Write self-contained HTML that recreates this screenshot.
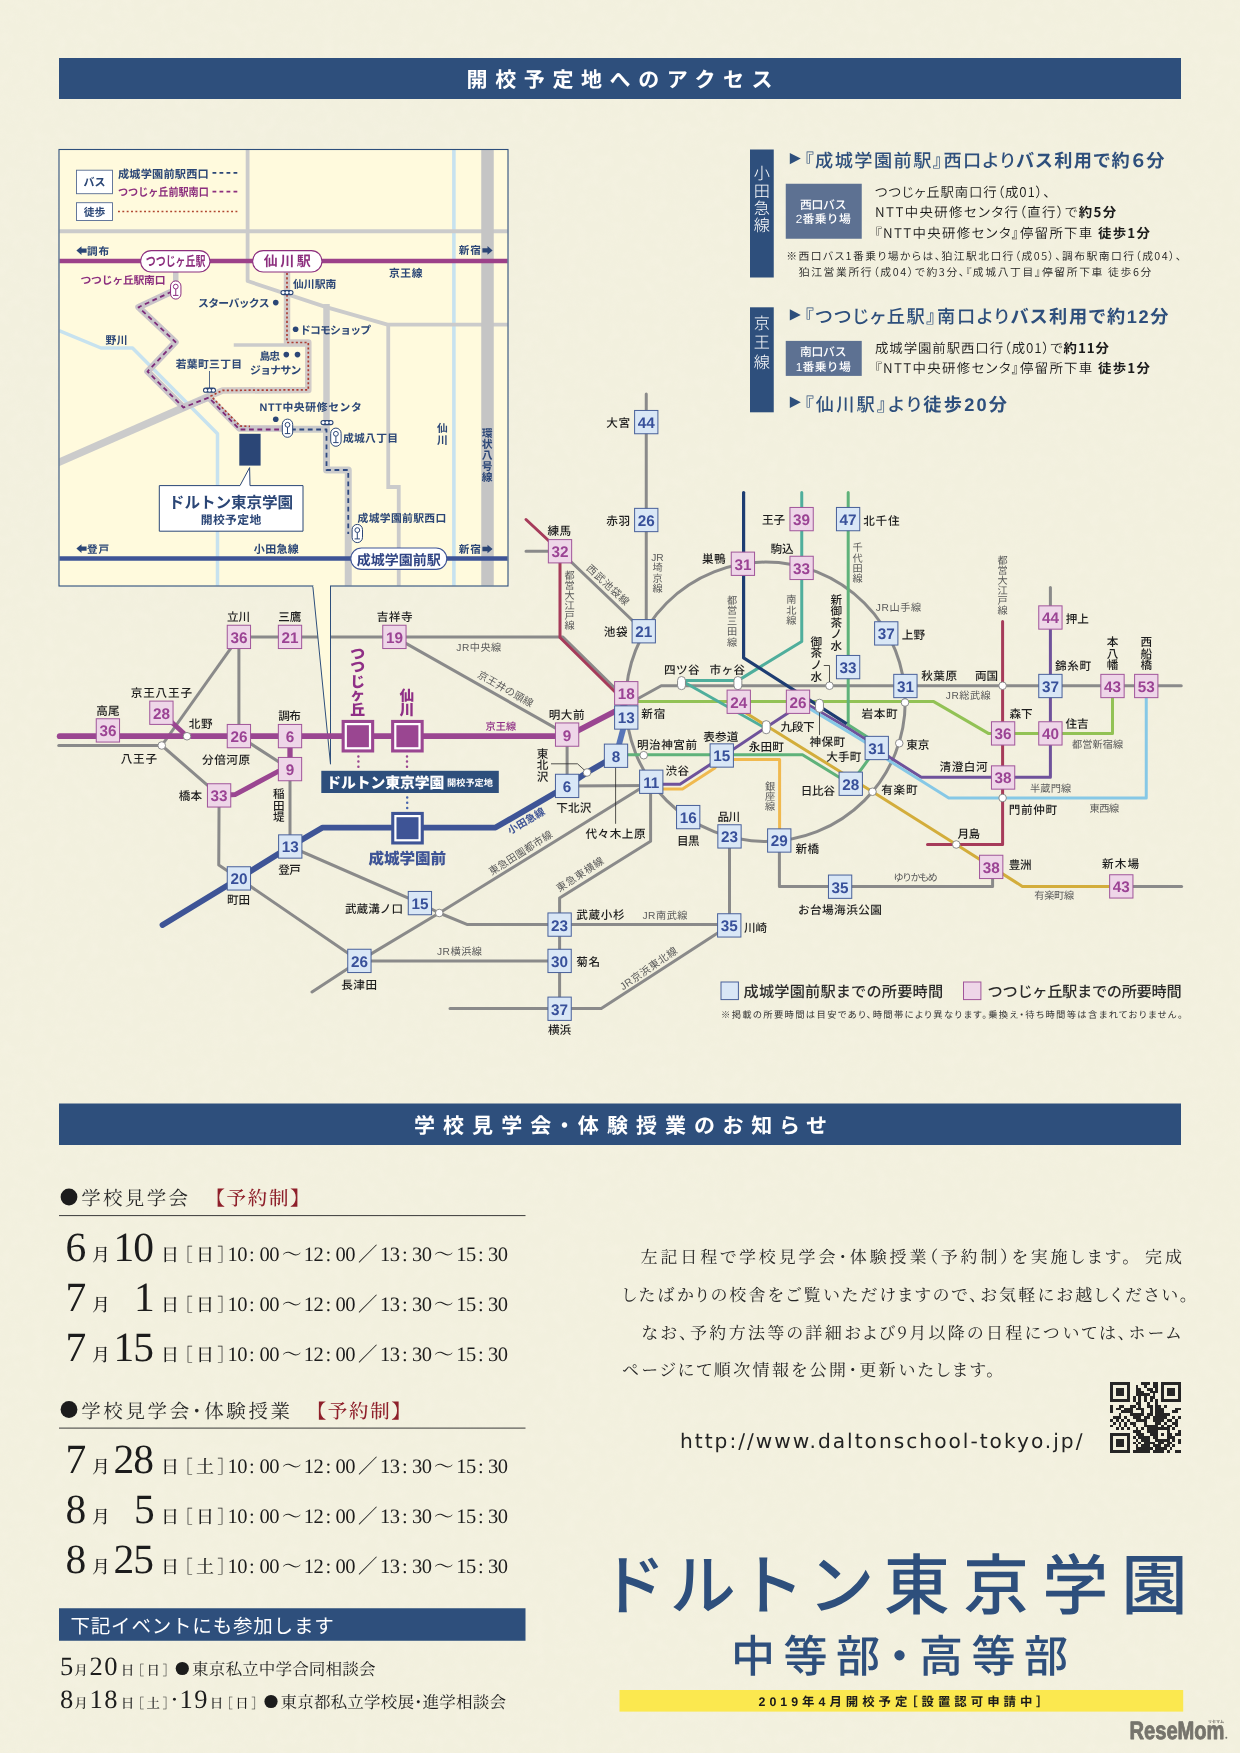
<!DOCTYPE html>
<html lang="ja"><head><meta charset="utf-8"><title>ドルトン東京学園 開校予定地へのアクセス</title>
<style>
html,body{margin:0;padding:0;background:#f2f0de;}
body{width:1240px;height:1753px;overflow:hidden;}
svg{display:block;font-family:"Liberation Sans","Noto Sans CJK JP",sans-serif;text-rendering:geometricPrecision;will-change:transform;}
svg text{white-space:pre;}
.serif{font-family:"Liberation Serif","Noto Serif CJK JP","Noto Serif CJK SC",serif;}
.jsans{font-family:"Noto Sans CJK JP","Liberation Sans",sans-serif;}
.jserif{font-family:"Noto Serif CJK JP","Noto Serif CJK SC","Liberation Serif",serif;}
</style></head><body>
<svg width="1240" height="1753" viewBox="0 0 1240 1753">
<defs><filter id="paper" x="0" y="0" width="100%" height="100%"><feTurbulence type="fractalNoise" baseFrequency="0.09" numOctaves="2" seed="7" result="n"/><feColorMatrix in="n" type="matrix" values="0 0 0 0 0.93  0 0 0 0 0.9  0 0 0 0 0.78  0.9 0.9 0 0 -0.72"/></filter></defs>
<rect width="1240" height="1753" fill="#f2f0de"/>
<rect width="1240" height="1753" filter="url(#paper)" opacity="0.55"/>
<rect x="59" y="58" width="1122" height="41" fill="#2e4f7c" />
<text x="619.6" y="87" font-size="21" fill="#ffffff" font-weight="700" text-anchor="middle" textLength="306" lengthAdjust="spacing">開校予定地へのアクセス</text>
<rect x="750" y="149.5" width="23.75" height="128" fill="#2e4f7c" />
<text x="761.9 761.9 761.9 761.9" y="179.46 196.66 213.86 231.06" font-size="16.2" fill="#ffffff" text-anchor="middle" font-weight="300">小田急線</text>
<rect x="750" y="307.3" width="23.75" height="105" fill="#2e4f7c" />
<text x="761.9 761.9 761.9" y="328.86 348.26 367.66" font-size="16.2" fill="#ffffff" text-anchor="middle" font-weight="300">京王線</text>
<polygon points="789.8,152.9 800.8,158.6 789.8,164.3" fill="#2e4f7c"/>
<text x="804.5" y="166.9" font-size="18.2" fill="#2e4f7c" style="font-feature-settings:'palt'" textLength="360" lengthAdjust="spacing"><tspan font-weight="500">『成城学園前駅』西口より</tspan><tspan font-weight="700">バス利用で約６分</tspan></text>
<rect x="785.75" y="183.75" width="76" height="55" fill="#5d7192" />
<text x="823.2" y="209.3" font-size="11.8" fill="#fff" font-weight="500" text-anchor="middle" textLength="46.5" lengthAdjust="spacing">西口バス</text>
<text x="823.2" y="223.2" font-size="11.8" fill="#fff" font-weight="500" text-anchor="middle" textLength="55" lengthAdjust="spacing">2番乗り場</text>
<text x="875" y="197" font-size="13.4" fill="#1a1a1a" style="font-feature-settings:'palt'" class="jsans" textLength="175" lengthAdjust="spacing"><tspan font-weight="350">つつじヶ丘駅南口行（成01）、</tspan></text>
<text x="875" y="217" font-size="13.4" fill="#1a1a1a" style="font-feature-settings:'palt'" class="jsans" textLength="241.25" lengthAdjust="spacing"><tspan font-weight="350">NTT中央研修センタ行（直行）で</tspan><tspan font-weight="700">約5分</tspan></text>
<text x="875" y="237.5" font-size="13.4" fill="#1a1a1a" style="font-feature-settings:'palt'" class="jsans" textLength="275" lengthAdjust="spacing"><tspan font-weight="350">『NTT中央研修センタ』停留所下車 </tspan><tspan font-weight="700">徒歩1分</tspan></text>
<text x="786.25" y="259.5" font-size="10.8" fill="#1a1a1a" style="font-feature-settings:'palt'" class="jsans" textLength="395" lengthAdjust="spacing"><tspan font-weight="350">※西口バス1番乗り場からは、狛江駅北口行（成05）、調布駅南口行（成04）、</tspan></text>
<text x="798.75" y="276.2" font-size="10.8" fill="#1a1a1a" style="font-feature-settings:'palt'" class="jsans" textLength="352.5" lengthAdjust="spacing"><tspan font-weight="350">狛江営業所行（成04）で約3分、『成城八丁目』停留所下車 徒歩6分</tspan></text>
<polygon points="789.8,309.2 800.8,314.9 789.8,320.59999999999997" fill="#2e4f7c"/>
<text x="804.5" y="323.3" font-size="18.2" fill="#2e4f7c" style="font-feature-settings:'palt'" textLength="364" lengthAdjust="spacing"><tspan font-weight="500">『つつじヶ丘駅』南口より</tspan><tspan font-weight="700">バス利用で約12分</tspan></text>
<rect x="785.75" y="340.9" width="76" height="35" fill="#5d7192" />
<text x="823.2" y="356.3" font-size="11.8" fill="#fff" font-weight="500" text-anchor="middle" textLength="46.5" lengthAdjust="spacing">南口バス</text>
<text x="823.2" y="371.4" font-size="11.8" fill="#fff" font-weight="500" text-anchor="middle" textLength="55" lengthAdjust="spacing">1番乗り場</text>
<text x="875" y="353" font-size="13.4" fill="#1a1a1a" style="font-feature-settings:'palt'" class="jsans" textLength="234" lengthAdjust="spacing"><tspan font-weight="350">成城学園前駅西口行（成01）で</tspan><tspan font-weight="700">約11分</tspan></text>
<text x="875" y="373" font-size="13.4" fill="#1a1a1a" style="font-feature-settings:'palt'" class="jsans" textLength="275" lengthAdjust="spacing"><tspan font-weight="350">『NTT中央研修センタ』停留所下車 </tspan><tspan font-weight="700">徒歩1分</tspan></text>
<polygon points="789.8,396.6 800.8,402.3 789.8,408.0" fill="#2e4f7c"/>
<text x="804.5" y="410.6" font-size="18.2" fill="#2e4f7c" style="font-feature-settings:'palt'" textLength="202.5" lengthAdjust="spacing"><tspan font-weight="500">『仙川駅』より</tspan><tspan font-weight="700">徒歩20分</tspan></text>
<defs><clipPath id="insetclip"><rect x="59.5" y="150" width="448" height="435.5"/></clipPath></defs>
<rect x="59" y="149.5" width="449" height="436.5" fill="#fffadd" />
<g clip-path="url(#insetclip)">
<polyline points="59,330.5 101,348 132.5,348 217.5,433.75 217.5,590" fill="none" stroke="#c7e2ef" stroke-width="3.5" stroke-linecap="butt" stroke-linejoin="round" />
<polyline points="453.9,149 453.9,590" fill="none" stroke="#c7e2ef" stroke-width="3.6" stroke-linecap="butt" stroke-linejoin="round" />
<polyline points="59,231.3 508,231.3" fill="none" stroke="#cbcbcb" stroke-width="3.9" stroke-linecap="butt" stroke-linejoin="round" />
<polyline points="247.6,149 247.6,281 327,307.4 387.5,324.6 508,324.6" fill="none" stroke="#cbcbcb" stroke-width="3.8" stroke-linecap="butt" stroke-linejoin="round" />
<polyline points="388.25,324 388.25,487 398.75,487 398.75,590" fill="none" stroke="#cbcbcb" stroke-width="3.8" stroke-linecap="butt" stroke-linejoin="miter" />
<polyline points="233.75,345 310,345" fill="none" stroke="#cbcbcb" stroke-width="3.6" stroke-linecap="butt" stroke-linejoin="round" />
<polyline points="55,464 210,396" fill="none" stroke="#cbcbcb" stroke-width="7.5" stroke-linecap="butt" stroke-linejoin="round" />
<polyline points="487.5,149 487.5,590" fill="none" stroke="#c5c5c5" stroke-width="12.5" stroke-linecap="butt" stroke-linejoin="round" />
<polyline points="326.5,304 326.5,429.5" fill="none" stroke="#cbcbcb" stroke-width="6.5" stroke-linecap="butt" stroke-linejoin="round" />
<polyline points="175.75,270 175.75,284" fill="none" stroke="#cbcbcb" stroke-width="5.5" stroke-linecap="butt" stroke-linejoin="round" />
<polyline points="172,291.5 138.5,307.2 175.5,342 147.5,371.5 183.5,407.5 208.75,397.5 239.5,428.5 287,428.5" fill="none" stroke="#c9c3c9" stroke-width="6.5" stroke-linecap="butt" stroke-linejoin="round" />
<polyline points="287,272 287,342.5 308.3,342.5 308.3,390 222.5,390.6 210,396" fill="none" stroke="#d2cbc8" stroke-width="6.5" stroke-linecap="butt" stroke-linejoin="round" />
<polyline points="287,429.2 326.5,429.2 326.5,470 348.25,470 348.25,590" fill="none" stroke="#cbcbcb" stroke-width="7" stroke-linecap="butt" stroke-linejoin="round" />
<polyline points="59,261.1 508,261.1" fill="none" stroke="#9c4189" stroke-width="4.5" stroke-linecap="butt" stroke-linejoin="round" />
<polyline points="59,558.5 508,558.5" fill="none" stroke="#3e5496" stroke-width="4.4" stroke-linecap="butt" stroke-linejoin="round" />
<polyline points="172,291.5 138.5,307.2 175.5,342 147.5,371.5 183.5,407.5 208.75,397.5 239.5,429.5 286,429.5" fill="none" stroke="#7d2a78" stroke-width="1.8" stroke-linecap="butt" stroke-linejoin="round" stroke-dasharray="4.8 3.6"/>
<polyline points="287,273 287,342.5 308.3,342.5 308.3,389.8 222.5,390.4 211,396 240,426 250,426.4" fill="none" stroke="#ad3d33" stroke-width="1.7" stroke-linecap="butt" stroke-linejoin="round" stroke-dasharray="2.1 2.25"/>
<polyline points="291,429.5 326.5,429.5 326.5,470 348.25,470 348.25,534" fill="none" stroke="#2f4a80" stroke-width="1.8" stroke-linecap="butt" stroke-linejoin="round" stroke-dasharray="4.8 3.6"/>
</g>
<rect x="59" y="149.5" width="449" height="436.5" fill="none" stroke="#2e4f7c" stroke-width="1.1" />
<rect x="76.5" y="170.2" width="36" height="23.5" fill="#ffffff" stroke="#566b92" stroke-width="0.9" />
<text x="94.5" y="186" font-size="11" fill="#2b4676" font-weight="700" text-anchor="middle">バス</text>
<rect x="76.5" y="202.7" width="36" height="17.8" fill="#ffffff" stroke="#566b92" stroke-width="0.9" />
<text x="94.5" y="215.7" font-size="10.8" fill="#2b4676" font-weight="700" text-anchor="middle">徒歩</text>
<text x="118" y="178.4" font-size="11.2" fill="#2b4676" font-weight="700" textLength="90.8" lengthAdjust="spacing">成城学園前駅西口</text>
<polyline points="212.5,172.9 237.5,172.9" fill="none" stroke="#2b4676" stroke-width="1.8" stroke-linecap="butt" stroke-linejoin="round" stroke-dasharray="3.8 3.2"/>
<text x="118" y="195.7" font-size="11.2" fill="#8c2e7e" font-weight="700" textLength="90.8" lengthAdjust="spacingAndGlyphs">つつじヶ丘前駅南口</text>
<polyline points="212.5,191.6 237.5,191.6" fill="none" stroke="#8c2e7e" stroke-width="1.8" stroke-linecap="butt" stroke-linejoin="round" stroke-dasharray="3.8 3.2"/>
<polyline points="118,211.6 237.5,211.6" fill="none" stroke="#b04630" stroke-width="1.5" stroke-linecap="butt" stroke-linejoin="round" stroke-dasharray="1.9 2.45"/>
<polygon points="86.60,248.40 81.50,248.40 81.50,246.30 76.40,250.60 81.50,254.90 81.50,252.80 86.60,252.80" fill="#2b4676"/>
<text x="87" y="254.5" font-size="10.6" fill="#2b4676" font-weight="700" textLength="22" lengthAdjust="spacing">調布</text>
<text x="458.8" y="254.3" font-size="10.6" fill="#2b4676" font-weight="700" textLength="22" lengthAdjust="spacing">新宿</text>
<polygon points="482.40,248.20 487.50,248.20 487.50,246.10 492.60,250.40 487.50,254.70 487.50,252.60 482.40,252.60" fill="#2b4676"/>
<polygon points="86.60,546.40 81.50,546.40 81.50,544.30 76.40,548.60 81.50,552.90 81.50,550.80 86.60,550.80" fill="#2b4676"/>
<text x="87" y="552.6" font-size="10.6" fill="#2b4676" font-weight="700" textLength="22" lengthAdjust="spacing">登戸</text>
<text x="458.8" y="552.8" font-size="10.6" fill="#2b4676" font-weight="700" textLength="22" lengthAdjust="spacing">新宿</text>
<polygon points="482.40,546.80 487.50,546.80 487.50,544.70 492.60,549.00 487.50,553.30 487.50,551.20 482.40,551.20" fill="#2b4676"/>
<text x="389" y="276.6" font-size="10.8" fill="#2b4676" font-weight="700" textLength="33.5" lengthAdjust="spacing">京王線</text>
<text x="253.8" y="553" font-size="11" fill="#2b4676" font-weight="700" textLength="45" lengthAdjust="spacing">小田急線</text>
<rect x="140.6" y="250.6" width="69.4" height="21.4" fill="#ffffff" stroke="#8c2e7e" stroke-width="1.1" rx="10.7" />
<text x="175.6" y="266.2" font-size="13.6" fill="#8c2e7e" font-weight="700" text-anchor="middle" textLength="59.5" lengthAdjust="spacingAndGlyphs">つつじヶ丘駅</text>
<rect x="252.6" y="250.6" width="69.4" height="21.4" fill="#ffffff" stroke="#8c2e7e" stroke-width="1.1" rx="10.7" />
<text x="287.3" y="266.4" font-size="14" fill="#8c2e7e" font-weight="700" text-anchor="middle" textLength="47" lengthAdjust="spacing">仙川駅</text>
<rect x="350.8" y="548" width="96" height="21.4" fill="#ffffff" stroke="#3e5496" stroke-width="1.1" rx="10.7" />
<text x="398.8" y="564.8" font-size="14" fill="#2f4383" font-weight="700" text-anchor="middle" textLength="84" lengthAdjust="spacing">成城学園前駅</text>
<rect x="170.55" y="280.9" width="10.4" height="18.2" fill="#ffffff" stroke="#8c2e7e" stroke-width="1.0" rx="5.2" />
<circle cx="175.75" cy="286.6" r="2.4" fill="none" stroke="#8c2e7e" stroke-width="1.0"/>
<path d="M175.75,289 V295.4 M173.05,295.4 H178.45" stroke="#8c2e7e" stroke-width="1" fill="none"/>
<text x="80.5" y="284.4" font-size="10.8" fill="#8c2e7e" font-weight="700" textLength="85" lengthAdjust="spacing">つつじヶ丘駅南口</text>
<rect x="280.5" y="290.0" width="13" height="5.2" fill="#2b4676" rx="2.6" />
<circle cx="283.1" cy="292.6" r="1.5" fill="#ffffff"/>
<circle cx="287" cy="292.6" r="1.5" fill="#ffffff"/>
<circle cx="290.9" cy="292.6" r="1.5" fill="#ffffff"/>
<text x="293" y="287.6" font-size="10.8" fill="#2b4676" font-weight="700" textLength="43.3" lengthAdjust="spacing">仙川駅南</text>
<text x="198" y="306.8" font-size="10.8" fill="#2b4676" font-weight="700" textLength="71.5" lengthAdjust="spacing">スターバックス</text>
<circle cx="275.75" cy="302.6" r="2.8" fill="#2b4676"/>
<circle cx="295.6" cy="329.3" r="2.8" fill="#2b4676"/>
<text x="300" y="333.7" font-size="10.8" fill="#2b4676" font-weight="700" textLength="71" lengthAdjust="spacing">ドコモショップ</text>
<text x="105.5" y="343.7" font-size="10.8" fill="#2b4676" font-weight="700" textLength="22" lengthAdjust="spacing">野川</text>
<text x="259.5" y="360" font-size="10.8" fill="#2b4676" font-weight="700" textLength="20.5" lengthAdjust="spacing">島忠</text>
<circle cx="286.3" cy="354.6" r="2.8" fill="#2b4676"/>
<circle cx="297.5" cy="354.6" r="2.8" fill="#2b4676"/>
<text x="250" y="373.7" font-size="10.8" fill="#2b4676" font-weight="700" textLength="51.3" lengthAdjust="spacing">ジョナサン</text>
<text x="175.75" y="368" font-size="10.8" fill="#2b4676" font-weight="700" textLength="66.3" lengthAdjust="spacing">若葉町三丁目</text>
<polyline points="209.5,371 209.5,388" fill="none" stroke="#2b4676" stroke-width="0.8" stroke-linecap="butt" stroke-linejoin="round" />
<rect x="203.0" y="387.59999999999997" width="13" height="5.2" fill="#2b4676" rx="2.6" />
<circle cx="205.6" cy="390.2" r="1.5" fill="#ffffff"/>
<circle cx="209.5" cy="390.2" r="1.5" fill="#ffffff"/>
<circle cx="213.4" cy="390.2" r="1.5" fill="#ffffff"/>
<text x="259.5" y="411.2" font-size="10.8" fill="#2b4676" font-weight="700" textLength="102.3" lengthAdjust="spacing">NTT中央研修センタ</text>
<circle cx="275.75" cy="419.3" r="2.8" fill="#2b4676"/>
<rect x="282.3" y="419.09999999999997" width="10.4" height="18.2" fill="#ffffff" stroke="#2b4676" stroke-width="1.0" rx="5.2" />
<circle cx="287.5" cy="424.8" r="2.4" fill="none" stroke="#2b4676" stroke-width="1.0"/>
<path d="M287.5,427.2 V433.59999999999997 M284.8,433.59999999999997 H290.2" stroke="#2b4676" stroke-width="1" fill="none"/>
<rect x="320.5" y="420.0" width="13" height="5.2" fill="#2b4676" rx="2.6" />
<circle cx="323.1" cy="422.6" r="1.5" fill="#ffffff"/>
<circle cx="327" cy="422.6" r="1.5" fill="#ffffff"/>
<circle cx="330.9" cy="422.6" r="1.5" fill="#ffffff"/>
<rect x="330.7" y="428.09999999999997" width="10.4" height="18.2" fill="#ffffff" stroke="#2b4676" stroke-width="1.0" rx="5.2" />
<circle cx="335.9" cy="433.8" r="2.4" fill="none" stroke="#2b4676" stroke-width="1.0"/>
<path d="M335.9,436.2 V442.59999999999997 M333.2,442.59999999999997 H338.59999999999997" stroke="#2b4676" stroke-width="1" fill="none"/>
<text x="343" y="441.8" font-size="10.8" fill="#2b4676" font-weight="700" textLength="55" lengthAdjust="spacing">成城八丁目</text>
<text x="442.5 442.5" y="432.0 443.8" font-size="10.8" fill="#2b4676" text-anchor="middle" font-weight="700">仙川</text>
<text x="487.2 487.2 487.2 487.2 487.2" y="436.8 447.9 459.0 470.1 481.2" font-size="10.8" fill="#2b4676" text-anchor="middle" font-weight="700">環状八号線</text>
<text x="357.5" y="522" font-size="10.8" fill="#2b4676" font-weight="700" textLength="88.8" lengthAdjust="spacing">成城学園前駅西口</text>
<rect x="352.1" y="524.4" width="10.4" height="18.2" fill="#ffffff" stroke="#2b4676" stroke-width="1.0" rx="5.2" />
<circle cx="357.3" cy="530.1" r="2.4" fill="none" stroke="#2b4676" stroke-width="1.0"/>
<path d="M357.3,532.5 V538.9 M354.6,538.9 H360.0" stroke="#2b4676" stroke-width="1" fill="none"/>
<rect x="239.3" y="433.8" width="21.3" height="31.8" fill="#2b4676" />
<path d="M159.3,485.6 H240 L249.6,467.6 L250,485.6 H303 V531.2 H159.3 Z" fill="#ffffff" stroke="#2b4676" stroke-width="1"/>
<text x="231" y="508.2" font-size="15.6" fill="#2b4676" font-weight="700" text-anchor="middle" textLength="124.3" lengthAdjust="spacing">ドルトン東京学園</text>
<text x="231" y="523.8" font-size="11.8" fill="#2b4676" font-weight="700" text-anchor="middle" textLength="60.5" lengthAdjust="spacing">開校予定地</text>
<circle cx="765.5" cy="701.8" r="139.7" fill="none" stroke="#8a8a8a" stroke-width="3.0"/>
<polyline points="58.75,745.5 161.75,745.5" fill="none" stroke="#8a8a8a" stroke-width="3.0" stroke-linecap="round" stroke-linejoin="round" />
<polyline points="161.75,745.5 238.9,636.9" fill="none" stroke="#8a8a8a" stroke-width="3.0" stroke-linecap="butt" stroke-linejoin="round" />
<polyline points="238.9,636.9 562.6,636.9 628.5,701.5" fill="none" stroke="#8a8a8a" stroke-width="3.0" stroke-linecap="butt" stroke-linejoin="round" />
<polyline points="161.75,745.5 219.1,795.4 218.75,865 238.9,878.4 359.4,960.9 559.6,960.9" fill="none" stroke="#8a8a8a" stroke-width="3.0" stroke-linecap="butt" stroke-linejoin="round" />
<polyline points="238.9,636.9 238.9,736.1 290,769.1 290,846.5 419.9,903.1 439.25,913 467.5,924.6 729.25,924.6" fill="none" stroke="#8a8a8a" stroke-width="3.0" stroke-linecap="butt" stroke-linejoin="round" />
<polyline points="729.5,836.25 729.5,925.4" fill="none" stroke="#8a8a8a" stroke-width="3.0" stroke-linecap="butt" stroke-linejoin="round" />
<polyline points="312,992 359.4,960.9 439.25,913 651.25,781.75" fill="none" stroke="#8a8a8a" stroke-width="3.0" stroke-linecap="round" stroke-linejoin="round" />
<polyline points="394.4,636.9 567.1,734.6 567.1,785.9 651.25,785.5" fill="none" stroke="#8a8a8a" stroke-width="3.0" stroke-linecap="butt" stroke-linejoin="round" />
<polyline points="650.6,781 650.6,841.25 559.6,898 559.6,1008.75" fill="none" stroke="#8a8a8a" stroke-width="3.0" stroke-linecap="butt" stroke-linejoin="round" />
<polyline points="450,1008.5 601.25,1008.5 729.25,925.4" fill="none" stroke="#8a8a8a" stroke-width="3.0" stroke-linecap="round" stroke-linejoin="round" />
<polyline points="646.25,394 646.25,631" fill="none" stroke="#8a8a8a" stroke-width="3.0" stroke-linecap="round" stroke-linejoin="round" />
<polyline points="526,551.25 560,551.25 643.75,631.25" fill="none" stroke="#8a8a8a" stroke-width="3.0" stroke-linecap="round" stroke-linejoin="round" />
<polyline points="630,703 661.25,685.75 1181.25,685.75" fill="none" stroke="#8a8a8a" stroke-width="3.0" stroke-linecap="round" stroke-linejoin="round" />
<polyline points="1050.4,587.5 1050.4,617.5" fill="none" stroke="#8a8a8a" stroke-width="3.0" stroke-linecap="round" stroke-linejoin="round" />
<polyline points="779.4,840 779.4,886.5 992.6,886.5 992.6,866.9" fill="none" stroke="#8a8a8a" stroke-width="3.0" stroke-linecap="butt" stroke-linejoin="round" />
<polyline points="1121.3,886.4 1181.6,886.4" fill="none" stroke="#8a8a8a" stroke-width="3.0" stroke-linecap="round" stroke-linejoin="round" />
<polyline points="526,519.5 560,551.25 560,637.5 626.25,703" fill="none" stroke="#a63b5a" stroke-width="3.0" stroke-linecap="round" stroke-linejoin="round" />
<polyline points="1002.6,621.5 1002.6,844.5 927.5,844.5" fill="none" stroke="#a63b5a" stroke-width="3.0" stroke-linecap="round" stroke-linejoin="round" />
<polyline points="626.25,701.6 905,701.6 933.75,701.6 988.75,733.6 1112.5,733.6 1112.5,686" fill="none" stroke="#92c255" stroke-width="3.0" stroke-linecap="butt" stroke-linejoin="round" />
<polyline points="848.2,492.5 848.2,724.8 876.75,743 876.75,748 850.75,783.75 838.75,777 802.5,754.8 615.75,754.8" fill="none" stroke="#5fb27a" stroke-width="3.0" stroke-linecap="round" stroke-linejoin="round" />
<polyline points="801.75,492.5 801.75,641.5 737.9,680.6 681.5,680.6" fill="none" stroke="#4fae9c" stroke-width="3.0" stroke-linecap="round" stroke-linejoin="round" />
<polyline points="683,681.5 765.5,728.2" fill="none" stroke="#4fae9c" stroke-width="3.0" stroke-linecap="butt" stroke-linejoin="round" />
<polyline points="744,711.8 872.5,791.75 956.25,844.5 1022.4,886.4 1121.3,886.4" fill="none" stroke="#d3ad3b" stroke-width="3.0" stroke-linecap="butt" stroke-linejoin="round" />
<polyline points="651.25,788.9 682.5,788.9 714.5,768.3 721.75,759.6 779.6,759.6 779.6,840" fill="none" stroke="#f0b94f" stroke-width="3.0" stroke-linecap="butt" stroke-linejoin="round" />
<polyline points="651.25,784.3 680,784.3 721.75,757 766.3,727.2 798,706.5" fill="none" stroke="#6f529b" stroke-width="3.0" stroke-linecap="butt" stroke-linejoin="round" />
<polyline points="800,700 846.8,727.3 866,739.5 890,757.5 921.25,777.3 1050.4,777.3 1050.4,617.5" fill="none" stroke="#6f529b" stroke-width="3.0" stroke-linecap="butt" stroke-linejoin="round" />
<polyline points="801,703.5 846.8,730.9 866,742.7 890,761.3 948.75,798 1146.25,798 1146.25,686" fill="none" stroke="#86c8e6" stroke-width="3.0" stroke-linecap="butt" stroke-linejoin="round" />
<polyline points="743.6,492.5 743.6,657.9 846.8,723.8" fill="none" stroke="#1e3d72" stroke-width="3.2" stroke-linecap="butt" stroke-linejoin="round" />
<circle cx="743.6" cy="492.5" r="1.6" fill="#1e3d72"/>
<path d="M312.8,586 L330.5,764.2 L330.5,586 Z" fill="#fffadd"/>
<path d="M312.8,586 L330.5,764.2 L330.5,586" fill="none" stroke="#2e4f7c" stroke-width="1" stroke-linejoin="miter"/>
<line x1="313.4" y1="586" x2="330" y2="586" stroke="#fffadd" stroke-width="2.2"/>
<polyline points="59.7,736.2 567.1,736.2" fill="none" stroke="#9a4691" stroke-width="5.8" stroke-linecap="round" stroke-linejoin="round" />
<polyline points="560,736.2 567.1,736.2 626.25,705.5" fill="none" stroke="#9a4691" stroke-width="5.8" stroke-linecap="butt" stroke-linejoin="round" />
<polyline points="161.4,712.75 187,736.25" fill="none" stroke="#9a4691" stroke-width="4.8" stroke-linecap="butt" stroke-linejoin="round" />
<polyline points="290,736.1 290,769.1" fill="none" stroke="#9a4691" stroke-width="5.3" stroke-linecap="butt" stroke-linejoin="round" />
<polyline points="290,769.1 278.25,771.4 235.5,794.4 219.1,795.6" fill="none" stroke="#9a4691" stroke-width="5.0" stroke-linecap="butt" stroke-linejoin="round" />
<polyline points="162.5,925 238.9,878.4 290.25,846.5 322.7,827.6 495.5,827.6 567.1,785.9 587,772.5 616,755.75" fill="none" stroke="#3e5496" stroke-width="5.8" stroke-linecap="round" stroke-linejoin="round" />
<polyline points="616,755.75 626.25,717.5" fill="none" stroke="#5775b8" stroke-width="5.8" stroke-linecap="butt" stroke-linejoin="round" />
<circle cx="187" cy="736.25" r="3.8" fill="#ffffff" stroke="#808080" stroke-width="0.9"/>
<circle cx="161.75" cy="745.5" r="3.8" fill="#ffffff" stroke="#808080" stroke-width="0.9"/>
<circle cx="439.25" cy="913" r="3.8" fill="#ffffff" stroke="#808080" stroke-width="0.9"/>
<circle cx="587" cy="772.5" r="3.8" fill="#ffffff" stroke="#808080" stroke-width="0.9"/>
<circle cx="643.75" cy="755.2" r="3.8" fill="#ffffff" stroke="#808080" stroke-width="0.9"/>
<circle cx="829.5" cy="685.75" r="3.8" fill="#ffffff" stroke="#808080" stroke-width="0.9"/>
<circle cx="905" cy="702.5" r="3.8" fill="#ffffff" stroke="#808080" stroke-width="0.9"/>
<circle cx="899.25" cy="743.25" r="3.8" fill="#ffffff" stroke="#808080" stroke-width="0.9"/>
<circle cx="872.5" cy="791.75" r="3.8" fill="#ffffff" stroke="#808080" stroke-width="0.9"/>
<circle cx="1002.6" cy="685.75" r="3.8" fill="#ffffff" stroke="#808080" stroke-width="0.9"/>
<circle cx="1002.6" cy="798" r="3.8" fill="#ffffff" stroke="#808080" stroke-width="0.9"/>
<circle cx="956.25" cy="844.5" r="3.8" fill="#ffffff" stroke="#808080" stroke-width="0.9"/>
<rect x="677.55" y="676.5" width="7.9" height="13.2" fill="#ffffff" stroke="#808080" stroke-width="0.9" rx="3.95" />
<rect x="733.9499999999999" y="676.5" width="7.9" height="13.2" fill="#ffffff" stroke="#808080" stroke-width="0.9" rx="3.95" />
<rect x="815.55" y="699.1999999999999" width="7.9" height="13.2" fill="#ffffff" stroke="#808080" stroke-width="0.9" rx="3.95" />
<rect x="762.25" y="720.6" width="7.9" height="13.2" fill="#ffffff" stroke="#808080" stroke-width="0.9" rx="3.95" />
<path d="M615.6,767 V823.8 M551,763.8 H577.5 L584.3,770 M823.75,665.5 H829.5 V682 M819.5,712.6 V735" stroke="#2a2a2a" stroke-width="0.8" fill="none"/>
<rect x="341.59999999999997" y="719.9000000000001" width="32.6" height="32.6" fill="#9a4691" />
<rect x="344.7" y="723.0" width="26.4" height="26.4" fill="#ffffff" />
<rect x="346.9" y="725.2" width="22" height="22" fill="#9a4691" />
<rect x="391.09999999999997" y="719.9000000000001" width="32.6" height="32.6" fill="#9a4691" />
<rect x="394.2" y="723.0" width="26.4" height="26.4" fill="#ffffff" />
<rect x="396.4" y="725.2" width="22" height="22" fill="#9a4691" />
<rect x="391.2" y="811.9000000000001" width="32.6" height="32.6" fill="#3e5496" />
<rect x="394.3" y="815.0" width="26.4" height="26.4" fill="#ffffff" />
<rect x="396.5" y="817.2" width="22" height="22" fill="#3e5496" />
<polyline points="358.4,756.4 358.4,768.5" fill="none" stroke="#9a4691" stroke-width="2.5" stroke-linecap="round" stroke-linejoin="round" stroke-dasharray="0.01 5.2"/>
<polyline points="407,756.4 407,768.5" fill="none" stroke="#9a4691" stroke-width="2.5" stroke-linecap="round" stroke-linejoin="round" stroke-dasharray="0.01 5.2"/>
<polyline points="407.2,797.6 407.2,809.5" fill="none" stroke="#4a66ad" stroke-width="2.5" stroke-linecap="round" stroke-linejoin="round" stroke-dasharray="0.01 5.2"/>
<rect x="321.3" y="770.8" width="177.5" height="22.2" fill="#2e4f7c" />
<text x="326.3" y="788" font-size="14.8" fill="#ffffff" font-weight="900" textLength="118" lengthAdjust="spacing">ドルトン東京学園</text>
<text x="447" y="786.2" font-size="9.2" fill="#ffffff" font-weight="700" textLength="46" lengthAdjust="spacing">開校予定地</text>
<text x="357.6 357.6 357.6 357.6 357.6" y="658.6 671.6 686.8 700.2 715.4" font-size="14.8" fill="#8f2f86" text-anchor="middle" font-weight="900">つつじヶ丘</text>
<text x="407.0 407.0" y="700.72 715.12" font-size="14.8" fill="#8f2f86" text-anchor="middle" font-weight="900">仙川</text>
<text x="407.3" y="863.7" font-size="15.6" fill="#3e5496" font-weight="900" text-anchor="middle" textLength="77.5" lengthAdjust="spacing">成城学園前</text>
<rect x="227.25" y="625.25" width="23.3" height="23.3" fill="#eed6e8" stroke="#a0559a" stroke-width="1" />
<text x="238.9" y="642.8" font-size="15.3" fill="#9b4394" font-weight="700" text-anchor="middle">36</text>
<rect x="278.35" y="625.25" width="23.3" height="23.3" fill="#eed6e8" stroke="#a0559a" stroke-width="1" />
<text x="290" y="642.8" font-size="15.3" fill="#9b4394" font-weight="700" text-anchor="middle">21</text>
<rect x="382.75" y="625.25" width="23.3" height="23.3" fill="#eed6e8" stroke="#a0559a" stroke-width="1" />
<text x="394.4" y="642.8" font-size="15.3" fill="#9b4394" font-weight="700" text-anchor="middle">19</text>
<rect x="96.25" y="718.75" width="23.3" height="23.3" fill="#eed6e8" stroke="#a0559a" stroke-width="1" />
<text x="107.9" y="736.3" font-size="15.3" fill="#9b4394" font-weight="700" text-anchor="middle">36</text>
<rect x="149.75" y="701.1" width="23.3" height="23.3" fill="#eed6e8" stroke="#a0559a" stroke-width="1" />
<text x="161.4" y="718.65" font-size="15.3" fill="#9b4394" font-weight="700" text-anchor="middle">28</text>
<rect x="227.25" y="724.45" width="23.3" height="23.3" fill="#eed6e8" stroke="#a0559a" stroke-width="1" />
<text x="238.9" y="742.0" font-size="15.3" fill="#9b4394" font-weight="700" text-anchor="middle">26</text>
<rect x="278.35" y="724.45" width="23.3" height="23.3" fill="#eed6e8" stroke="#a0559a" stroke-width="1" />
<text x="290" y="742.0" font-size="15.3" fill="#9b4394" font-weight="700" text-anchor="middle">6</text>
<rect x="278.35" y="757.45" width="23.3" height="23.3" fill="#eed6e8" stroke="#a0559a" stroke-width="1" />
<text x="290" y="775.0" font-size="15.3" fill="#9b4394" font-weight="700" text-anchor="middle">9</text>
<rect x="207.45" y="783.75" width="23.3" height="23.3" fill="#eed6e8" stroke="#a0559a" stroke-width="1" />
<text x="219.1" y="801.3" font-size="15.3" fill="#9b4394" font-weight="700" text-anchor="middle">33</text>
<rect x="548.35" y="539.6" width="23.3" height="23.3" fill="#eed6e8" stroke="#a0559a" stroke-width="1" />
<text x="560" y="557.15" font-size="15.3" fill="#9b4394" font-weight="700" text-anchor="middle">32</text>
<rect x="614.6" y="681.6" width="23.3" height="23.3" fill="#eed6e8" stroke="#a0559a" stroke-width="1" />
<text x="626.25" y="699.15" font-size="15.3" fill="#9b4394" font-weight="700" text-anchor="middle">18</text>
<rect x="555.45" y="722.95" width="23.3" height="23.3" fill="#eed6e8" stroke="#a0559a" stroke-width="1" />
<text x="567.1" y="740.5" font-size="15.3" fill="#9b4394" font-weight="700" text-anchor="middle">9</text>
<rect x="727.1" y="690.1" width="23.3" height="23.3" fill="#eed6e8" stroke="#a0559a" stroke-width="1" />
<text x="738.75" y="707.65" font-size="15.3" fill="#9b4394" font-weight="700" text-anchor="middle">24</text>
<rect x="786.35" y="690.1" width="23.3" height="23.3" fill="#eed6e8" stroke="#a0559a" stroke-width="1" />
<text x="798" y="707.65" font-size="15.3" fill="#9b4394" font-weight="700" text-anchor="middle">26</text>
<rect x="731.25" y="552.1" width="23.3" height="23.3" fill="#eed6e8" stroke="#a0559a" stroke-width="1" />
<text x="742.9" y="569.65" font-size="15.3" fill="#9b4394" font-weight="700" text-anchor="middle">31</text>
<rect x="789.95" y="556.25" width="23.3" height="23.3" fill="#eed6e8" stroke="#a0559a" stroke-width="1" />
<text x="801.6" y="573.8" font-size="15.3" fill="#9b4394" font-weight="700" text-anchor="middle">33</text>
<rect x="789.95" y="507.45" width="23.3" height="23.3" fill="#eed6e8" stroke="#a0559a" stroke-width="1" />
<text x="801.6" y="525.0" font-size="15.3" fill="#9b4394" font-weight="700" text-anchor="middle">39</text>
<rect x="991.45" y="721.75" width="23.3" height="23.3" fill="#eed6e8" stroke="#a0559a" stroke-width="1" />
<text x="1003.1" y="739.3" font-size="15.3" fill="#9b4394" font-weight="700" text-anchor="middle">36</text>
<rect x="1038.75" y="721.75" width="23.3" height="23.3" fill="#eed6e8" stroke="#a0559a" stroke-width="1" />
<text x="1050.4" y="739.3" font-size="15.3" fill="#9b4394" font-weight="700" text-anchor="middle">40</text>
<rect x="991.45" y="765.85" width="23.3" height="23.3" fill="#eed6e8" stroke="#a0559a" stroke-width="1" />
<text x="1003.1" y="783.4" font-size="15.3" fill="#9b4394" font-weight="700" text-anchor="middle">38</text>
<rect x="1038.75" y="605.85" width="23.3" height="23.3" fill="#eed6e8" stroke="#a0559a" stroke-width="1" />
<text x="1050.4" y="623.4" font-size="15.3" fill="#9b4394" font-weight="700" text-anchor="middle">44</text>
<rect x="1100.85" y="674.35" width="23.3" height="23.3" fill="#eed6e8" stroke="#a0559a" stroke-width="1" />
<text x="1112.5" y="691.9" font-size="15.3" fill="#9b4394" font-weight="700" text-anchor="middle">43</text>
<rect x="1134.6" y="674.35" width="23.3" height="23.3" fill="#eed6e8" stroke="#a0559a" stroke-width="1" />
<text x="1146.25" y="691.9" font-size="15.3" fill="#9b4394" font-weight="700" text-anchor="middle">53</text>
<rect x="979.55" y="855.25" width="23.3" height="23.3" fill="#eed6e8" stroke="#a0559a" stroke-width="1" />
<text x="991.2" y="872.8" font-size="15.3" fill="#9b4394" font-weight="700" text-anchor="middle">38</text>
<rect x="1109.65" y="874.75" width="23.3" height="23.3" fill="#eed6e8" stroke="#a0559a" stroke-width="1" />
<text x="1121.3" y="892.3" font-size="15.3" fill="#9b4394" font-weight="700" text-anchor="middle">43</text>
<rect x="278.6" y="834.85" width="23.3" height="23.3" fill="#d9e7f6" stroke="#48609a" stroke-width="1" />
<text x="290.25" y="852.4" font-size="15.3" fill="#38509a" font-weight="700" text-anchor="middle">13</text>
<rect x="227.25" y="866.75" width="23.3" height="23.3" fill="#d9e7f6" stroke="#48609a" stroke-width="1" />
<text x="238.9" y="884.3" font-size="15.3" fill="#38509a" font-weight="700" text-anchor="middle">20</text>
<rect x="408.25" y="891.45" width="23.3" height="23.3" fill="#d9e7f6" stroke="#48609a" stroke-width="1" />
<text x="419.9" y="909.0" font-size="15.3" fill="#38509a" font-weight="700" text-anchor="middle">15</text>
<rect x="347.75" y="949.25" width="23.3" height="23.3" fill="#d9e7f6" stroke="#48609a" stroke-width="1" />
<text x="359.4" y="966.8" font-size="15.3" fill="#38509a" font-weight="700" text-anchor="middle">26</text>
<rect x="634.6" y="410.45" width="23.3" height="23.3" fill="#d9e7f6" stroke="#48609a" stroke-width="1" />
<text x="646.25" y="428.0" font-size="15.3" fill="#38509a" font-weight="700" text-anchor="middle">44</text>
<rect x="634.6" y="508.35" width="23.3" height="23.3" fill="#d9e7f6" stroke="#48609a" stroke-width="1" />
<text x="646.25" y="525.9" font-size="15.3" fill="#38509a" font-weight="700" text-anchor="middle">26</text>
<rect x="632.1" y="619.6" width="23.3" height="23.3" fill="#d9e7f6" stroke="#48609a" stroke-width="1" />
<text x="643.75" y="637.15" font-size="15.3" fill="#38509a" font-weight="700" text-anchor="middle">21</text>
<rect x="614.6" y="705.85" width="23.3" height="23.3" fill="#d9e7f6" stroke="#48609a" stroke-width="1" />
<text x="626.25" y="723.4" font-size="15.3" fill="#38509a" font-weight="700" text-anchor="middle">13</text>
<rect x="604.35" y="744.1" width="23.3" height="23.3" fill="#d9e7f6" stroke="#48609a" stroke-width="1" />
<text x="616" y="761.65" font-size="15.3" fill="#38509a" font-weight="700" text-anchor="middle">8</text>
<rect x="555.45" y="774.25" width="23.3" height="23.3" fill="#d9e7f6" stroke="#48609a" stroke-width="1" />
<text x="567.1" y="791.8" font-size="15.3" fill="#38509a" font-weight="700" text-anchor="middle">6</text>
<rect x="639.6" y="770.1" width="23.3" height="23.3" fill="#d9e7f6" stroke="#48609a" stroke-width="1" />
<text x="651.25" y="787.65" font-size="15.3" fill="#38509a" font-weight="700" text-anchor="middle">11</text>
<rect x="710.1" y="743.85" width="23.3" height="23.3" fill="#d9e7f6" stroke="#48609a" stroke-width="1" />
<text x="721.75" y="761.4" font-size="15.3" fill="#38509a" font-weight="700" text-anchor="middle">15</text>
<rect x="676.55" y="805.45" width="23.3" height="23.3" fill="#d9e7f6" stroke="#48609a" stroke-width="1" />
<text x="688.2" y="823.0" font-size="15.3" fill="#38509a" font-weight="700" text-anchor="middle">16</text>
<rect x="717.85" y="824.75" width="23.3" height="23.3" fill="#d9e7f6" stroke="#48609a" stroke-width="1" />
<text x="729.5" y="842.3" font-size="15.3" fill="#38509a" font-weight="700" text-anchor="middle">23</text>
<rect x="767.6" y="828.85" width="23.3" height="23.3" fill="#d9e7f6" stroke="#48609a" stroke-width="1" />
<text x="779.25" y="846.4" font-size="15.3" fill="#38509a" font-weight="700" text-anchor="middle">29</text>
<rect x="836.45" y="507.45" width="23.3" height="23.3" fill="#d9e7f6" stroke="#48609a" stroke-width="1" />
<text x="848.1" y="525.0" font-size="15.3" fill="#38509a" font-weight="700" text-anchor="middle">47</text>
<rect x="836.45" y="655.45" width="23.3" height="23.3" fill="#d9e7f6" stroke="#48609a" stroke-width="1" />
<text x="848.1" y="673.0" font-size="15.3" fill="#38509a" font-weight="700" text-anchor="middle">33</text>
<rect x="874.6" y="621.75" width="23.3" height="23.3" fill="#d9e7f6" stroke="#48609a" stroke-width="1" />
<text x="886.25" y="639.3" font-size="15.3" fill="#38509a" font-weight="700" text-anchor="middle">37</text>
<rect x="893.75" y="674.35" width="23.3" height="23.3" fill="#d9e7f6" stroke="#48609a" stroke-width="1" />
<text x="905.4" y="691.9" font-size="15.3" fill="#38509a" font-weight="700" text-anchor="middle">31</text>
<rect x="865.1" y="736.35" width="23.3" height="23.3" fill="#d9e7f6" stroke="#48609a" stroke-width="1" />
<text x="876.75" y="753.9" font-size="15.3" fill="#38509a" font-weight="700" text-anchor="middle">31</text>
<rect x="839.1" y="772.1" width="23.3" height="23.3" fill="#d9e7f6" stroke="#48609a" stroke-width="1" />
<text x="850.75" y="789.65" font-size="15.3" fill="#38509a" font-weight="700" text-anchor="middle">28</text>
<rect x="1038.75" y="674.35" width="23.3" height="23.3" fill="#d9e7f6" stroke="#48609a" stroke-width="1" />
<text x="1050.4" y="691.9" font-size="15.3" fill="#38509a" font-weight="700" text-anchor="middle">37</text>
<rect x="828.45" y="875.05" width="23.3" height="23.3" fill="#d9e7f6" stroke="#48609a" stroke-width="1" />
<text x="840.1" y="892.6" font-size="15.3" fill="#38509a" font-weight="700" text-anchor="middle">35</text>
<rect x="547.95" y="912.95" width="23.3" height="23.3" fill="#d9e7f6" stroke="#48609a" stroke-width="1" />
<text x="559.6" y="930.5" font-size="15.3" fill="#38509a" font-weight="700" text-anchor="middle">23</text>
<rect x="547.95" y="949.25" width="23.3" height="23.3" fill="#d9e7f6" stroke="#48609a" stroke-width="1" />
<text x="559.6" y="966.8" font-size="15.3" fill="#38509a" font-weight="700" text-anchor="middle">30</text>
<rect x="547.95" y="997.1" width="23.3" height="23.3" fill="#d9e7f6" stroke="#48609a" stroke-width="1" />
<text x="559.6" y="1014.65" font-size="15.3" fill="#38509a" font-weight="700" text-anchor="middle">37</text>
<rect x="717.6" y="913.75" width="23.3" height="23.3" fill="#d9e7f6" stroke="#48609a" stroke-width="1" />
<text x="729.25" y="931.3" font-size="15.3" fill="#38509a" font-weight="700" text-anchor="middle">35</text>
<text x="227" y="621.3" font-size="11.6" fill="#1e1e1e" font-weight="500" textLength="23" lengthAdjust="spacing">立川</text>
<text x="278.3" y="621.3" font-size="11.6" fill="#1e1e1e" font-weight="500" textLength="23" lengthAdjust="spacing">三鷹</text>
<text x="376.8" y="621.3" font-size="11.6" fill="#1e1e1e" font-weight="500" textLength="35.7" lengthAdjust="spacing">吉祥寺</text>
<text x="96.3" y="714.5" font-size="11.6" fill="#1e1e1e" font-weight="500" textLength="23.2" lengthAdjust="spacing">高尾</text>
<text x="130.8" y="697" font-size="11.6" fill="#1e1e1e" font-weight="500" textLength="61.2" lengthAdjust="spacing">京王八王子</text>
<text x="188.8" y="728.3" font-size="11.6" fill="#1e1e1e" font-weight="500" textLength="23.7" lengthAdjust="spacing">北野</text>
<text x="120.8" y="762.5" font-size="11.6" fill="#1e1e1e" font-weight="500" textLength="36.2" lengthAdjust="spacing">八王子</text>
<text x="202" y="763.8" font-size="11.6" fill="#1e1e1e" font-weight="500" textLength="48" lengthAdjust="spacing">分倍河原</text>
<text x="278.3" y="719.5" font-size="11.6" fill="#1e1e1e" font-weight="500" textLength="22.5" lengthAdjust="spacing">調布</text>
<text x="178.8" y="800" font-size="11.6" fill="#1e1e1e" font-weight="500" textLength="23.2" lengthAdjust="spacing">橋本</text>
<text x="278.8 278.8 278.8" y="798.21 809.81 821.41" font-size="11.6" fill="#1e1e1e" text-anchor="middle" font-weight="500">稲田堤</text>
<text x="278.3" y="873.8" font-size="11.6" fill="#1e1e1e" font-weight="500" textLength="22.5" lengthAdjust="spacing">登戸</text>
<text x="227" y="903.8" font-size="11.6" fill="#1e1e1e" font-weight="500" textLength="23" lengthAdjust="spacing">町田</text>
<text x="345" y="913" font-size="11.6" fill="#1e1e1e" font-weight="500" textLength="58" lengthAdjust="spacing">武蔵溝ノ口</text>
<text x="341.3" y="988.8" font-size="11.6" fill="#1e1e1e" font-weight="500" textLength="35.7" lengthAdjust="spacing">長津田</text>
<text x="606.3" y="427" font-size="11.6" fill="#1e1e1e" font-weight="500" textLength="23.7" lengthAdjust="spacing">大宮</text>
<text x="606.3" y="525" font-size="11.6" fill="#1e1e1e" font-weight="500" textLength="23.7" lengthAdjust="spacing">赤羽</text>
<text x="547.5" y="535" font-size="11.6" fill="#1e1e1e" font-weight="500" textLength="23.7" lengthAdjust="spacing">練馬</text>
<text x="603.8" y="636.3" font-size="11.6" fill="#1e1e1e" font-weight="500" textLength="23.7" lengthAdjust="spacing">池袋</text>
<text x="702" y="563" font-size="11.6" fill="#1e1e1e" font-weight="500" textLength="23.7" lengthAdjust="spacing">巣鴨</text>
<text x="762" y="524.3" font-size="11.6" fill="#1e1e1e" font-weight="500" textLength="23" lengthAdjust="spacing">王子</text>
<text x="770.5" y="553" font-size="11.6" fill="#1e1e1e" font-weight="500" textLength="23.2" lengthAdjust="spacing">駒込</text>
<text x="863.3" y="525" font-size="11.6" fill="#1e1e1e" font-weight="500" textLength="36.2" lengthAdjust="spacing">北千住</text>
<text x="901.8" y="639.3" font-size="11.6" fill="#1e1e1e" font-weight="500" textLength="23.2" lengthAdjust="spacing">上野</text>
<text x="921.3" y="679.5" font-size="11.6" fill="#1e1e1e" font-weight="500" textLength="35.7" lengthAdjust="spacing">秋葉原</text>
<text x="975" y="679.5" font-size="11.6" fill="#1e1e1e" font-weight="500" textLength="23.2" lengthAdjust="spacing">両国</text>
<text x="1055" y="669.5" font-size="11.6" fill="#1e1e1e" font-weight="500" textLength="36.2" lengthAdjust="spacing">錦糸町</text>
<text x="1065.8" y="623" font-size="11.6" fill="#1e1e1e" font-weight="500" textLength="23" lengthAdjust="spacing">押上</text>
<text x="1112.5 1112.5 1112.5" y="646.21 657.61 669.01" font-size="11.6" fill="#1e1e1e" text-anchor="middle" font-weight="500">本八幡</text>
<text x="1146.25 1146.25 1146.25" y="646.21 657.61 669.01" font-size="11.6" fill="#1e1e1e" text-anchor="middle" font-weight="500">西船橋</text>
<text x="1009.5" y="718" font-size="11.6" fill="#1e1e1e" font-weight="500" textLength="23" lengthAdjust="spacing">森下</text>
<text x="1065.5" y="727.5" font-size="11.6" fill="#1e1e1e" font-weight="500" textLength="23.2" lengthAdjust="spacing">住吉</text>
<text x="939.5" y="771.3" font-size="11.6" fill="#1e1e1e" font-weight="500" textLength="48" lengthAdjust="spacing">清澄白河</text>
<text x="1008.8" y="813.8" font-size="11.6" fill="#1e1e1e" font-weight="500" textLength="48.2" lengthAdjust="spacing">門前仲町</text>
<text x="957.5" y="837.5" font-size="11.6" fill="#1e1e1e" font-weight="500" textLength="22.5" lengthAdjust="spacing">月島</text>
<text x="906.3" y="748.8" font-size="11.6" fill="#1e1e1e" font-weight="500" textLength="23" lengthAdjust="spacing">東京</text>
<text x="881.3" y="793.8" font-size="11.6" fill="#1e1e1e" font-weight="500" textLength="36.2" lengthAdjust="spacing">有楽町</text>
<text x="861.5" y="717.5" font-size="11.6" fill="#1e1e1e" font-weight="500" textLength="36" lengthAdjust="spacing">岩本町</text>
<text x="795.4" y="852.5" font-size="11.6" fill="#1e1e1e" font-weight="500" textLength="23.6" lengthAdjust="spacing">新橋</text>
<text x="1008.8" y="869.4" font-size="11.6" fill="#1e1e1e" font-weight="500" textLength="22.7" lengthAdjust="spacing">豊洲</text>
<text x="1102" y="868.4" font-size="11.6" fill="#1e1e1e" font-weight="500" textLength="37.2" lengthAdjust="spacing">新木場</text>
<text x="798" y="913.5" font-size="11.6" fill="#1e1e1e" font-weight="500" textLength="83.8" lengthAdjust="spacing">お台場海浜公園</text>
<text x="548.8" y="718.8" font-size="11.6" fill="#1e1e1e" font-weight="500" textLength="35.7" lengthAdjust="spacing">明大前</text>
<text x="542.5 542.5 542.5" y="757.71 769.31 780.91" font-size="11.6" fill="#1e1e1e" text-anchor="middle" font-weight="500">東北沢</text>
<text x="556.3" y="812" font-size="11.6" fill="#1e1e1e" font-weight="500" textLength="35" lengthAdjust="spacing">下北沢</text>
<text x="585.5" y="838" font-size="11.6" fill="#1e1e1e" font-weight="500" textLength="60" lengthAdjust="spacing">代々木上原</text>
<text x="677" y="844.5" font-size="11.6" fill="#1e1e1e" font-weight="500" textLength="22.5" lengthAdjust="spacing">目黒</text>
<text x="717.5" y="821.3" font-size="11.6" fill="#1e1e1e" font-weight="500" textLength="22.5" lengthAdjust="spacing">品川</text>
<text x="576.3" y="918.8" font-size="11.6" fill="#1e1e1e" font-weight="500" textLength="48.2" lengthAdjust="spacing">武蔵小杉</text>
<text x="576.3" y="966.3" font-size="11.6" fill="#1e1e1e" font-weight="500" textLength="23.7" lengthAdjust="spacing">菊名</text>
<text x="548" y="1034" font-size="11.6" fill="#1e1e1e" font-weight="500" textLength="23.2" lengthAdjust="spacing">横浜</text>
<text x="744" y="932" font-size="11.6" fill="#1e1e1e" font-weight="500" textLength="23" lengthAdjust="spacing">川崎</text>
<text x="641.3" y="718" font-size="11.6" fill="#1e1e1e" font-weight="500" textLength="24" lengthAdjust="spacing">新宿</text>
<text x="637" y="749.3" font-size="11.6" fill="#1e1e1e" font-weight="500" textLength="60" lengthAdjust="spacing">明治神宮前</text>
<text x="665.5" y="775" font-size="11.6" fill="#1e1e1e" font-weight="500" textLength="23.7" lengthAdjust="spacing">渋谷</text>
<text x="703.3" y="741.4" font-size="11.6" fill="#1e1e1e" font-weight="500" textLength="35" lengthAdjust="spacing">表参道</text>
<text x="664" y="674" font-size="11.6" fill="#1e1e1e" font-weight="500" textLength="35.5" lengthAdjust="spacing">四ツ谷</text>
<text x="709.5" y="674" font-size="11.6" fill="#1e1e1e" font-weight="500" textLength="35.5" lengthAdjust="spacing">市ヶ谷</text>
<text x="748.8" y="751.4" font-size="11.6" fill="#1e1e1e" font-weight="500" textLength="35" lengthAdjust="spacing">永田町</text>
<text x="780.5" y="731.4" font-size="11.6" fill="#1e1e1e" font-weight="500" textLength="34" lengthAdjust="spacing">九段下</text>
<text x="809.5" y="746.4" font-size="11.6" fill="#1e1e1e" font-weight="500" textLength="35.5" lengthAdjust="spacing">神保町</text>
<text x="826.3" y="760.6" font-size="11.6" fill="#1e1e1e" font-weight="500" textLength="35" lengthAdjust="spacing">大手町</text>
<text x="800.8" y="794.6" font-size="11.6" fill="#1e1e1e" font-weight="500" textLength="34.2" lengthAdjust="spacing">日比谷</text>
<text x="836.25 836.25 836.25 836.25 836.25" y="603.96 615.46 626.96 638.46 649.96" font-size="11.6" fill="#1e1e1e" text-anchor="middle" font-weight="500">新御茶ノ水</text>
<text x="816.25 816.25 816.25 816.25" y="645.71 657.46 669.21 680.96" font-size="11.6" fill="#1e1e1e" text-anchor="middle" font-weight="500">御茶ノ水</text>
<text x="456.3" y="651.3" font-size="10.2" fill="#5a5a5a" textLength="45" lengthAdjust="spacing">JR中央線</text>
<text x="485.5" y="730" font-size="10.2" fill="#8f2f86" font-weight="500" textLength="30.8" lengthAdjust="spacing">京王線</text>
<text x="503.75" y="692" font-size="10.2" fill="#5a5a5a" text-anchor="middle" textLength="62" lengthAdjust="spacing" transform="rotate(29.5 503.75 692)">京王井の頭線</text>
<text x="605.5" y="587.5" font-size="10.2" fill="#5a5a5a" text-anchor="middle" textLength="54" lengthAdjust="spacing" transform="rotate(43 605.5 587.5)">西武池袋線</text>
<text x="657.5" y="561" font-size="10.2" fill="#5a5a5a" text-anchor="middle">JR</text>
<text x="657.5 657.5 657.5" y="571.48 581.98 592.48" font-size="10.2" fill="#5a5a5a" text-anchor="middle">埼京線</text>
<text x="569.5 569.5 569.5 569.5 569.5 569.5" y="578.98 588.98 598.98 608.98 618.98 628.98" font-size="10.2" fill="#5a5a5a" text-anchor="middle">都営大江戸線</text>
<text x="1002.5 1002.5 1002.5 1002.5 1002.5 1002.5" y="563.98 574.08 584.18 594.28 604.38 614.48" font-size="10.2" fill="#5a5a5a" text-anchor="middle">都営大江戸線</text>
<text x="732 732 732 732 732" y="603.98 614.48 624.98 635.48 645.98" font-size="10.2" fill="#5a5a5a" text-anchor="middle">都営三田線</text>
<text x="791.25 791.25 791.25" y="603.23 613.53 623.83" font-size="10.2" fill="#5a5a5a" text-anchor="middle">南北線</text>
<text x="857.5 857.5 857.5 857.5" y="551.48 561.58 571.68 581.78" font-size="10.2" fill="#5a5a5a" text-anchor="middle">千代田線</text>
<text x="770 770 770" y="790.18 800.18 810.18" font-size="10.2" fill="#5a5a5a" text-anchor="middle">銀座線</text>
<text x="875.8" y="611.3" font-size="10.2" fill="#5a5a5a" textLength="45.5" lengthAdjust="spacing">JR山手線</text>
<text x="945.8" y="698.8" font-size="10.2" fill="#5a5a5a" textLength="45" lengthAdjust="spacing">JR総武線</text>
<text x="1072" y="748" font-size="10.2" fill="#5a5a5a" textLength="51.2" lengthAdjust="spacing">都営新宿線</text>
<text x="1030" y="791.8" font-size="10.2" fill="#5a5a5a" textLength="41.2" lengthAdjust="spacing">半蔵門線</text>
<text x="1089.5" y="812" font-size="10.2" fill="#5a5a5a" textLength="29.8" lengthAdjust="spacing">東西線</text>
<text x="893.6" y="881.3" font-size="10.2" fill="#5a5a5a" textLength="44" lengthAdjust="spacing">ゆりかもめ</text>
<text x="1034.2" y="899.3" font-size="10.2" fill="#5a5a5a" textLength="40" lengthAdjust="spacing">有楽町線</text>
<text x="642.5" y="918.8" font-size="10.2" fill="#5a5a5a" textLength="45" lengthAdjust="spacing">JR南武線</text>
<text x="437" y="955" font-size="10.2" fill="#5a5a5a" textLength="45" lengthAdjust="spacing">JR横浜線</text>
<text x="528" y="824" font-size="10.2" fill="#3e5496" font-weight="700" text-anchor="middle" textLength="41" lengthAdjust="spacing" transform="rotate(-30.5 528 824)">小田急線</text>
<text x="522.5" y="856" font-size="10.2" fill="#5a5a5a" text-anchor="middle" textLength="73" lengthAdjust="spacing" transform="rotate(-32.5 522.5 856)">東急田園都市線</text>
<text x="582" y="877.5" font-size="10.2" fill="#5a5a5a" text-anchor="middle" textLength="54" lengthAdjust="spacing" transform="rotate(-33 582 877.5)">東急東横線</text>
<text x="650.5" y="971.5" font-size="10.2" fill="#5a5a5a" text-anchor="middle" textLength="67" lengthAdjust="spacing" transform="rotate(-34.5 650.5 971.5)">JR京浜東北線</text>
<rect x="721" y="982" width="17.4" height="17.6" fill="#d9e7f6" stroke="#48609a" stroke-width="1" />
<text x="743.6" y="997.3" font-size="15.2" fill="#2a2a2a" font-weight="500" textLength="199.5" lengthAdjust="spacing">成城学園前駅までの所要時間</text>
<rect x="963.5" y="982" width="17.4" height="17.6" fill="#eed6e8" stroke="#a0559a" stroke-width="1" />
<text x="987.6" y="997.3" font-size="15.2" fill="#2a2a2a" font-weight="500" textLength="194" lengthAdjust="spacing">つつじヶ丘駅までの所要時間</text>
<text x="721" y="1017.7" font-size="9.3" fill="#333" textLength="461.5" lengthAdjust="spacing" style="font-feature-settings:'palt'">※掲載の所要時間は目安であり、時間帯により異なります。乗換え・待ち時間等は含まれておりません。</text>
<rect x="59" y="1103.5" width="1122" height="41.5" fill="#2e4f7c" />
<text x="620" y="1133" font-size="21" fill="#ffffff" font-weight="700" text-anchor="middle" textLength="412" lengthAdjust="spacing" style="font-feature-settings:'palt'">学校見学会・体験授業のお知らせ</text>
<circle cx="69" cy="1197" r="8.4" fill="#1c1c1c"/>
<text x="81.25" y="1205" font-size="19.5" fill="#2a2a2a" class="jserif" textLength="106.75" lengthAdjust="spacing" style="font-feature-settings:'palt'">学校見学会</text>
<text x="215" y="1205" font-size="19.5" fill="#8e1f2a" font-weight="500" class="jserif" textLength="85" lengthAdjust="spacing" style="font-feature-settings:'palt'">【予約制】</text>
<line x1="59" y1="1215.6" x2="525.5" y2="1215.6" stroke="#3a3a3a" stroke-width="1"/>
<text y="1261.25" fill="#1c1c1c" class="serif"><tspan x="65.5" font-size="41.5">6</tspan><tspan x="92" font-size="18" class="jserif" font-weight="500">月</tspan><tspan x="113.5" font-size="41.5" textLength="40.5" lengthAdjust="spacing">10</tspan><tspan x="161" font-size="18" class="jserif" font-weight="500">日</tspan><tspan x="183.5" font-size="18" class="jserif" font-weight="500" style="font-feature-settings:'palt'" textLength="43" lengthAdjust="spacing">［日］</tspan><tspan x="227.5" font-size="20.5" textLength="20" lengthAdjust="spacing">10</tspan><tspan x="249" font-size="20.5">:</tspan><tspan x="259.5" font-size="20.5" textLength="20" lengthAdjust="spacing">00</tspan><tspan x="303.75" font-size="20.5" textLength="20" lengthAdjust="spacing">12</tspan><tspan x="325.5" font-size="20.5">:</tspan><tspan x="335.5" font-size="20.5" textLength="20" lengthAdjust="spacing">00</tspan><tspan x="380" font-size="20.5" textLength="20" lengthAdjust="spacing">13</tspan><tspan x="402" font-size="20.5">:</tspan><tspan x="412" font-size="20.5" textLength="20" lengthAdjust="spacing">30</tspan><tspan x="456.25" font-size="20.5" textLength="20" lengthAdjust="spacing">15</tspan><tspan x="478" font-size="20.5">:</tspan><tspan x="488" font-size="20.5" textLength="20" lengthAdjust="spacing">30</tspan><tspan x="282" font-size="19.5" class="jserif">〜</tspan><tspan x="434" font-size="19.5" class="jserif">〜</tspan><tspan x="358" font-size="19.5" class="jserif">／</tspan></text>
<text y="1311.25" fill="#1c1c1c" class="serif"><tspan x="65.5" font-size="41.5">7</tspan><tspan x="92" font-size="18" class="jserif" font-weight="500">月</tspan><tspan x="134" font-size="41.5">1</tspan><tspan x="161" font-size="18" class="jserif" font-weight="500">日</tspan><tspan x="183.5" font-size="18" class="jserif" font-weight="500" style="font-feature-settings:'palt'" textLength="43" lengthAdjust="spacing">［日］</tspan><tspan x="227.5" font-size="20.5" textLength="20" lengthAdjust="spacing">10</tspan><tspan x="249" font-size="20.5">:</tspan><tspan x="259.5" font-size="20.5" textLength="20" lengthAdjust="spacing">00</tspan><tspan x="303.75" font-size="20.5" textLength="20" lengthAdjust="spacing">12</tspan><tspan x="325.5" font-size="20.5">:</tspan><tspan x="335.5" font-size="20.5" textLength="20" lengthAdjust="spacing">00</tspan><tspan x="380" font-size="20.5" textLength="20" lengthAdjust="spacing">13</tspan><tspan x="402" font-size="20.5">:</tspan><tspan x="412" font-size="20.5" textLength="20" lengthAdjust="spacing">30</tspan><tspan x="456.25" font-size="20.5" textLength="20" lengthAdjust="spacing">15</tspan><tspan x="478" font-size="20.5">:</tspan><tspan x="488" font-size="20.5" textLength="20" lengthAdjust="spacing">30</tspan><tspan x="282" font-size="19.5" class="jserif">〜</tspan><tspan x="434" font-size="19.5" class="jserif">〜</tspan><tspan x="358" font-size="19.5" class="jserif">／</tspan></text>
<text y="1361.25" fill="#1c1c1c" class="serif"><tspan x="65.5" font-size="41.5">7</tspan><tspan x="92" font-size="18" class="jserif" font-weight="500">月</tspan><tspan x="113.5" font-size="41.5" textLength="40.5" lengthAdjust="spacing">15</tspan><tspan x="161" font-size="18" class="jserif" font-weight="500">日</tspan><tspan x="183.5" font-size="18" class="jserif" font-weight="500" style="font-feature-settings:'palt'" textLength="43" lengthAdjust="spacing">［日］</tspan><tspan x="227.5" font-size="20.5" textLength="20" lengthAdjust="spacing">10</tspan><tspan x="249" font-size="20.5">:</tspan><tspan x="259.5" font-size="20.5" textLength="20" lengthAdjust="spacing">00</tspan><tspan x="303.75" font-size="20.5" textLength="20" lengthAdjust="spacing">12</tspan><tspan x="325.5" font-size="20.5">:</tspan><tspan x="335.5" font-size="20.5" textLength="20" lengthAdjust="spacing">00</tspan><tspan x="380" font-size="20.5" textLength="20" lengthAdjust="spacing">13</tspan><tspan x="402" font-size="20.5">:</tspan><tspan x="412" font-size="20.5" textLength="20" lengthAdjust="spacing">30</tspan><tspan x="456.25" font-size="20.5" textLength="20" lengthAdjust="spacing">15</tspan><tspan x="478" font-size="20.5">:</tspan><tspan x="488" font-size="20.5" textLength="20" lengthAdjust="spacing">30</tspan><tspan x="282" font-size="19.5" class="jserif">〜</tspan><tspan x="434" font-size="19.5" class="jserif">〜</tspan><tspan x="358" font-size="19.5" class="jserif">／</tspan></text>
<circle cx="69" cy="1409.5" r="8.4" fill="#1c1c1c"/>
<text x="81.25" y="1417.5" font-size="19.5" fill="#2a2a2a" class="jserif" textLength="208.75" lengthAdjust="spacing" style="font-feature-settings:'palt'">学校見学会・体験授業</text>
<text x="316.25" y="1417.5" font-size="19.5" fill="#8e1f2a" font-weight="500" class="jserif" textLength="85" lengthAdjust="spacing" style="font-feature-settings:'palt'">【予約制】</text>
<line x1="59" y1="1428.1" x2="525.5" y2="1428.1" stroke="#3a3a3a" stroke-width="1"/>
<text y="1473" fill="#1c1c1c" class="serif"><tspan x="65.5" font-size="41.5">7</tspan><tspan x="92" font-size="18" class="jserif" font-weight="500">月</tspan><tspan x="113.5" font-size="41.5" textLength="40.5" lengthAdjust="spacing">28</tspan><tspan x="161" font-size="18" class="jserif" font-weight="500">日</tspan><tspan x="183.5" font-size="18" class="jserif" font-weight="500" style="font-feature-settings:'palt'" textLength="43" lengthAdjust="spacing">［土］</tspan><tspan x="227.5" font-size="20.5" textLength="20" lengthAdjust="spacing">10</tspan><tspan x="249" font-size="20.5">:</tspan><tspan x="259.5" font-size="20.5" textLength="20" lengthAdjust="spacing">00</tspan><tspan x="303.75" font-size="20.5" textLength="20" lengthAdjust="spacing">12</tspan><tspan x="325.5" font-size="20.5">:</tspan><tspan x="335.5" font-size="20.5" textLength="20" lengthAdjust="spacing">00</tspan><tspan x="380" font-size="20.5" textLength="20" lengthAdjust="spacing">13</tspan><tspan x="402" font-size="20.5">:</tspan><tspan x="412" font-size="20.5" textLength="20" lengthAdjust="spacing">30</tspan><tspan x="456.25" font-size="20.5" textLength="20" lengthAdjust="spacing">15</tspan><tspan x="478" font-size="20.5">:</tspan><tspan x="488" font-size="20.5" textLength="20" lengthAdjust="spacing">30</tspan><tspan x="282" font-size="19.5" class="jserif">〜</tspan><tspan x="434" font-size="19.5" class="jserif">〜</tspan><tspan x="358" font-size="19.5" class="jserif">／</tspan></text>
<text y="1523" fill="#1c1c1c" class="serif"><tspan x="65.5" font-size="41.5">8</tspan><tspan x="92" font-size="18" class="jserif" font-weight="500">月</tspan><tspan x="134" font-size="41.5">5</tspan><tspan x="161" font-size="18" class="jserif" font-weight="500">日</tspan><tspan x="183.5" font-size="18" class="jserif" font-weight="500" style="font-feature-settings:'palt'" textLength="43" lengthAdjust="spacing">［日］</tspan><tspan x="227.5" font-size="20.5" textLength="20" lengthAdjust="spacing">10</tspan><tspan x="249" font-size="20.5">:</tspan><tspan x="259.5" font-size="20.5" textLength="20" lengthAdjust="spacing">00</tspan><tspan x="303.75" font-size="20.5" textLength="20" lengthAdjust="spacing">12</tspan><tspan x="325.5" font-size="20.5">:</tspan><tspan x="335.5" font-size="20.5" textLength="20" lengthAdjust="spacing">00</tspan><tspan x="380" font-size="20.5" textLength="20" lengthAdjust="spacing">13</tspan><tspan x="402" font-size="20.5">:</tspan><tspan x="412" font-size="20.5" textLength="20" lengthAdjust="spacing">30</tspan><tspan x="456.25" font-size="20.5" textLength="20" lengthAdjust="spacing">15</tspan><tspan x="478" font-size="20.5">:</tspan><tspan x="488" font-size="20.5" textLength="20" lengthAdjust="spacing">30</tspan><tspan x="282" font-size="19.5" class="jserif">〜</tspan><tspan x="434" font-size="19.5" class="jserif">〜</tspan><tspan x="358" font-size="19.5" class="jserif">／</tspan></text>
<text y="1573" fill="#1c1c1c" class="serif"><tspan x="65.5" font-size="41.5">8</tspan><tspan x="92" font-size="18" class="jserif" font-weight="500">月</tspan><tspan x="113.5" font-size="41.5" textLength="40.5" lengthAdjust="spacing">25</tspan><tspan x="161" font-size="18" class="jserif" font-weight="500">日</tspan><tspan x="183.5" font-size="18" class="jserif" font-weight="500" style="font-feature-settings:'palt'" textLength="43" lengthAdjust="spacing">［土］</tspan><tspan x="227.5" font-size="20.5" textLength="20" lengthAdjust="spacing">10</tspan><tspan x="249" font-size="20.5">:</tspan><tspan x="259.5" font-size="20.5" textLength="20" lengthAdjust="spacing">00</tspan><tspan x="303.75" font-size="20.5" textLength="20" lengthAdjust="spacing">12</tspan><tspan x="325.5" font-size="20.5">:</tspan><tspan x="335.5" font-size="20.5" textLength="20" lengthAdjust="spacing">00</tspan><tspan x="380" font-size="20.5" textLength="20" lengthAdjust="spacing">13</tspan><tspan x="402" font-size="20.5">:</tspan><tspan x="412" font-size="20.5" textLength="20" lengthAdjust="spacing">30</tspan><tspan x="456.25" font-size="20.5" textLength="20" lengthAdjust="spacing">15</tspan><tspan x="478" font-size="20.5">:</tspan><tspan x="488" font-size="20.5" textLength="20" lengthAdjust="spacing">30</tspan><tspan x="282" font-size="19.5" class="jserif">〜</tspan><tspan x="434" font-size="19.5" class="jserif">〜</tspan><tspan x="358" font-size="19.5" class="jserif">／</tspan></text>
<rect x="59" y="1608.25" width="466.5" height="32.5" fill="#2e4f7c" />
<text x="70.5" y="1632.8" font-size="19.5" fill="#ffffff" textLength="263.25" lengthAdjust="spacing">下記イベントにも参加します</text>
<text y="1674.5" fill="#1c1c1c" class="serif"><tspan x="60" font-size="26.5">5</tspan><tspan x="74.3" font-size="13.6" class="jserif" font-weight="500">月</tspan><tspan x="89.5" font-size="26.5" textLength="28" lengthAdjust="spacing">20</tspan><tspan x="120.8" font-size="13.6" class="jserif" font-weight="500">日</tspan><tspan x="137.3" font-size="13.4" class="jserif" textLength="32" lengthAdjust="spacing" style="font-feature-settings:'palt'" font-weight="500">［日］</tspan><tspan x="192" font-size="16.6" class="jserif" textLength="183.5" lengthAdjust="spacing">東京私立中学合同相談会</tspan></text>
<circle cx="182.3" cy="1668.5" r="6.6" fill="#1c1c1c"/>
<text y="1707.5" fill="#1c1c1c" class="serif"><tspan x="60" font-size="26.5">8</tspan><tspan x="74.3" font-size="13.6" class="jserif" font-weight="500">月</tspan><tspan x="89.5" font-size="26.5" textLength="28" lengthAdjust="spacing">18</tspan><tspan x="120.8" font-size="13.6" class="jserif" font-weight="500">日</tspan><tspan x="137.3" font-size="13.4" class="jserif" textLength="32" lengthAdjust="spacing" style="font-feature-settings:'palt'" font-weight="500">［土］</tspan><tspan x="170" font-size="26.5">·</tspan><tspan x="179.5" font-size="26.5" textLength="28" lengthAdjust="spacing">19</tspan><tspan x="209.8" font-size="13.6" class="jserif" font-weight="500">日</tspan><tspan x="226" font-size="13.4" class="jserif" textLength="32" lengthAdjust="spacing" style="font-feature-settings:'palt'" font-weight="500">［日］</tspan><tspan x="280.5" font-size="16.6" class="jserif" textLength="225.5" lengthAdjust="spacing" style="font-feature-settings:'palt'">東京都私立学校展・進学相談会</tspan></text>
<circle cx="271" cy="1701.5" r="6.6" fill="#1c1c1c"/>
<text x="640.5" y="1262.5" font-size="17" fill="#262626" class="jserif" textLength="541.5" lengthAdjust="spacing" style="font-feature-settings:'palt'">左記日程で学校見学会・体験授業（予約制）を実施します。 完成</text>
<text x="622.5" y="1301.0" font-size="17" fill="#262626" class="jserif" textLength="566" lengthAdjust="spacing" style="font-feature-settings:'palt'">したばかりの校舎をご覧いただけますので、お気軽にお越しください。</text>
<text x="641.25" y="1338.5" font-size="17" fill="#262626" class="jserif" textLength="539.5" lengthAdjust="spacing" style="font-feature-settings:'palt'">なお、予約方法等の詳細および9月以降の日程については、ホーム</text>
<text x="622" y="1376.25" font-size="17" fill="#262626" class="jserif" textLength="373" lengthAdjust="spacing" style="font-feature-settings:'palt'">ページにて順次情報を公開・更新いたします。</text>
<text x="680" y="1447.5" font-size="20.2" fill="#222" textLength="402.5" lengthAdjust="spacing" style="font-family:'DejaVu Sans','Liberation Sans',sans-serif">http://www.daltonschool-tokyo.jp/</text>
<text x="607.5" y="1609.3" font-size="66" fill="#2e4f7c" font-weight="500" class="jsans" textLength="580" lengthAdjust="spacing" style="font-feature-settings:'palt'">ドルトン東京学園</text>
<text x="731" y="1672" font-size="44" fill="#2e4f7c" font-weight="500" class="jsans" textLength="337" lengthAdjust="spacing" style="font-feature-settings:'palt'">中等部・高等部</text>
<rect x="619.5" y="1690" width="563.7" height="21.6" fill="#fbe84f" />
<text x="900.5" y="1706.3" font-size="12.4" fill="#1a1a1a" font-weight="700" text-anchor="middle" textLength="284" lengthAdjust="spacing" style="font-feature-settings:'palt'">2019年4月開校予定［設置認可申請中］</text>
<text x="1129.5" y="1738.7" font-size="25" fill="#76746c" font-weight="700" textLength="95" lengthAdjust="spacingAndGlyphs" stroke="#76746c" stroke-width="0.9" stroke-linejoin="round">ReseMom</text>
<text x="1208" y="1723.3" font-size="4" fill="#76746c" font-weight="700" textLength="16" lengthAdjust="spacing">リセマム</text>
<circle cx="1226.3" cy="1737.7" r="1.0" fill="#76746c"/>
<path d="M1110.00,1382.00h19.85v2.84h-19.85zM1141.20,1382.00h8.51v2.84h-8.51zM1152.54,1382.00h5.67v2.84h-5.67zM1161.05,1382.00h19.85v2.84h-19.85zM1110.00,1384.84h2.84v2.84h-2.84zM1127.02,1384.84h2.84v2.84h-2.84zM1135.52,1384.84h2.84v2.84h-2.84zM1144.03,1384.84h2.84v2.84h-2.84zM1152.54,1384.84h5.67v2.84h-5.67zM1161.05,1384.84h2.84v2.84h-2.84zM1178.06,1384.84h2.84v2.84h-2.84zM1110.00,1387.67h2.84v2.84h-2.84zM1115.67,1387.67h8.51v2.84h-8.51zM1127.02,1387.67h2.84v2.84h-2.84zM1135.52,1387.67h5.67v2.84h-5.67zM1146.87,1387.67h5.67v2.84h-5.67zM1155.38,1387.67h2.84v2.84h-2.84zM1161.05,1387.67h2.84v2.84h-2.84zM1166.72,1387.67h8.51v2.84h-8.51zM1178.06,1387.67h2.84v2.84h-2.84zM1110.00,1390.51h2.84v2.84h-2.84zM1115.67,1390.51h8.51v2.84h-8.51zM1127.02,1390.51h2.84v2.84h-2.84zM1135.52,1390.51h8.51v2.84h-8.51zM1149.70,1390.51h8.51v2.84h-8.51zM1161.05,1390.51h2.84v2.84h-2.84zM1166.72,1390.51h8.51v2.84h-8.51zM1178.06,1390.51h2.84v2.84h-2.84zM1110.00,1393.34h2.84v2.84h-2.84zM1115.67,1393.34h8.51v2.84h-8.51zM1127.02,1393.34h2.84v2.84h-2.84zM1135.52,1393.34h14.18v2.84h-14.18zM1152.54,1393.34h2.84v2.84h-2.84zM1161.05,1393.34h2.84v2.84h-2.84zM1166.72,1393.34h8.51v2.84h-8.51zM1178.06,1393.34h2.84v2.84h-2.84zM1110.00,1396.18h2.84v2.84h-2.84zM1127.02,1396.18h2.84v2.84h-2.84zM1132.69,1396.18h2.84v2.84h-2.84zM1138.36,1396.18h2.84v2.84h-2.84zM1144.03,1396.18h2.84v2.84h-2.84zM1149.70,1396.18h5.67v2.84h-5.67zM1161.05,1396.18h2.84v2.84h-2.84zM1178.06,1396.18h2.84v2.84h-2.84zM1110.00,1399.02h19.85v2.84h-19.85zM1132.69,1399.02h2.84v2.84h-2.84zM1138.36,1399.02h2.84v2.84h-2.84zM1144.03,1399.02h2.84v2.84h-2.84zM1149.70,1399.02h2.84v2.84h-2.84zM1155.38,1399.02h2.84v2.84h-2.84zM1161.05,1399.02h19.85v2.84h-19.85zM1135.52,1401.85h5.67v2.84h-5.67zM1146.87,1401.85h2.84v2.84h-2.84zM1155.38,1401.85h2.84v2.84h-2.84zM1110.00,1404.69h2.84v2.84h-2.84zM1118.51,1404.69h5.67v2.84h-5.67zM1129.85,1404.69h5.67v2.84h-5.67zM1138.36,1404.69h2.84v2.84h-2.84zM1146.87,1404.69h5.67v2.84h-5.67zM1155.38,1404.69h5.67v2.84h-5.67zM1163.88,1404.69h2.84v2.84h-2.84zM1110.00,1407.52h2.84v2.84h-2.84zM1115.67,1407.52h5.67v2.84h-5.67zM1124.18,1407.52h8.51v2.84h-8.51zM1135.52,1407.52h8.51v2.84h-8.51zM1149.70,1407.52h2.84v2.84h-2.84zM1155.38,1407.52h8.51v2.84h-8.51zM1175.23,1407.52h5.67v2.84h-5.67zM1110.00,1410.36h2.84v2.84h-2.84zM1121.34,1410.36h11.34v2.84h-11.34zM1141.20,1410.36h2.84v2.84h-2.84zM1149.70,1410.36h2.84v2.84h-2.84zM1155.38,1410.36h8.51v2.84h-8.51zM1172.39,1410.36h5.67v2.84h-5.67zM1118.51,1413.20h2.84v2.84h-2.84zM1129.85,1413.20h14.18v2.84h-14.18zM1146.87,1413.20h5.67v2.84h-5.67zM1155.38,1413.20h14.18v2.84h-14.18zM1112.84,1416.03h8.51v2.84h-8.51zM1124.18,1416.03h2.84v2.84h-2.84zM1132.69,1416.03h8.51v2.84h-8.51zM1144.03,1416.03h5.67v2.84h-5.67zM1152.54,1416.03h14.18v2.84h-14.18zM1172.39,1416.03h2.84v2.84h-2.84zM1178.06,1416.03h2.84v2.84h-2.84zM1110.00,1418.87h2.84v2.84h-2.84zM1115.67,1418.87h2.84v2.84h-2.84zM1121.34,1418.87h2.84v2.84h-2.84zM1127.02,1418.87h2.84v2.84h-2.84zM1135.52,1418.87h11.34v2.84h-11.34zM1152.54,1418.87h11.34v2.84h-11.34zM1166.72,1418.87h5.67v2.84h-5.67zM1175.23,1418.87h2.84v2.84h-2.84zM1112.84,1421.70h2.84v2.84h-2.84zM1118.51,1421.70h2.84v2.84h-2.84zM1124.18,1421.70h2.84v2.84h-2.84zM1129.85,1421.70h5.67v2.84h-5.67zM1144.03,1421.70h2.84v2.84h-2.84zM1155.38,1421.70h5.67v2.84h-5.67zM1163.88,1421.70h2.84v2.84h-2.84zM1172.39,1421.70h5.67v2.84h-5.67zM1110.00,1424.54h2.84v2.84h-2.84zM1118.51,1424.54h2.84v2.84h-2.84zM1124.18,1424.54h2.84v2.84h-2.84zM1132.69,1424.54h2.84v2.84h-2.84zM1144.03,1424.54h14.18v2.84h-14.18zM1161.05,1424.54h2.84v2.84h-2.84zM1166.72,1424.54h5.67v2.84h-5.67zM1175.23,1424.54h2.84v2.84h-2.84zM1115.67,1427.38h2.84v2.84h-2.84zM1121.34,1427.38h2.84v2.84h-2.84zM1127.02,1427.38h2.84v2.84h-2.84zM1135.52,1427.38h2.84v2.84h-2.84zM1141.20,1427.38h2.84v2.84h-2.84zM1146.87,1427.38h22.69v2.84h-22.69zM1172.39,1427.38h2.84v2.84h-2.84zM1132.69,1430.21h8.51v2.84h-8.51zM1146.87,1430.21h11.34v2.84h-11.34zM1166.72,1430.21h2.84v2.84h-2.84zM1178.06,1430.21h2.84v2.84h-2.84zM1110.00,1433.05h19.85v2.84h-19.85zM1135.52,1433.05h8.51v2.84h-8.51zM1149.70,1433.05h8.51v2.84h-8.51zM1161.05,1433.05h2.84v2.84h-2.84zM1166.72,1433.05h5.67v2.84h-5.67zM1175.23,1433.05h5.67v2.84h-5.67zM1110.00,1435.88h2.84v2.84h-2.84zM1127.02,1435.88h2.84v2.84h-2.84zM1132.69,1435.88h2.84v2.84h-2.84zM1138.36,1435.88h11.34v2.84h-11.34zM1152.54,1435.88h5.67v2.84h-5.67zM1166.72,1435.88h8.51v2.84h-8.51zM1110.00,1438.72h2.84v2.84h-2.84zM1115.67,1438.72h8.51v2.84h-8.51zM1127.02,1438.72h2.84v2.84h-2.84zM1135.52,1438.72h2.84v2.84h-2.84zM1141.20,1438.72h8.51v2.84h-8.51zM1155.38,1438.72h14.18v2.84h-14.18zM1172.39,1438.72h2.84v2.84h-2.84zM1178.06,1438.72h2.84v2.84h-2.84zM1110.00,1441.56h2.84v2.84h-2.84zM1115.67,1441.56h8.51v2.84h-8.51zM1127.02,1441.56h2.84v2.84h-2.84zM1132.69,1441.56h2.84v2.84h-2.84zM1138.36,1441.56h2.84v2.84h-2.84zM1144.03,1441.56h11.34v2.84h-11.34zM1158.21,1441.56h5.67v2.84h-5.67zM1166.72,1441.56h5.67v2.84h-5.67zM1178.06,1441.56h2.84v2.84h-2.84zM1110.00,1444.39h2.84v2.84h-2.84zM1115.67,1444.39h8.51v2.84h-8.51zM1127.02,1444.39h2.84v2.84h-2.84zM1135.52,1444.39h2.84v2.84h-2.84zM1141.20,1444.39h8.51v2.84h-8.51zM1152.54,1444.39h8.51v2.84h-8.51zM1163.88,1444.39h5.67v2.84h-5.67zM1172.39,1444.39h2.84v2.84h-2.84zM1110.00,1447.23h2.84v2.84h-2.84zM1127.02,1447.23h2.84v2.84h-2.84zM1135.52,1447.23h17.02v2.84h-17.02zM1155.38,1447.23h11.34v2.84h-11.34zM1169.56,1447.23h2.84v2.84h-2.84zM1110.00,1450.06h19.85v2.84h-19.85zM1132.69,1450.06h17.02v2.84h-17.02zM1152.54,1450.06h11.34v2.84h-11.34zM1166.72,1450.06h2.84v2.84h-2.84zM1175.23,1450.06h5.67v2.84h-5.67z" fill="#262626" shape-rendering="crispEdges"/>
</svg>
</body></html>
